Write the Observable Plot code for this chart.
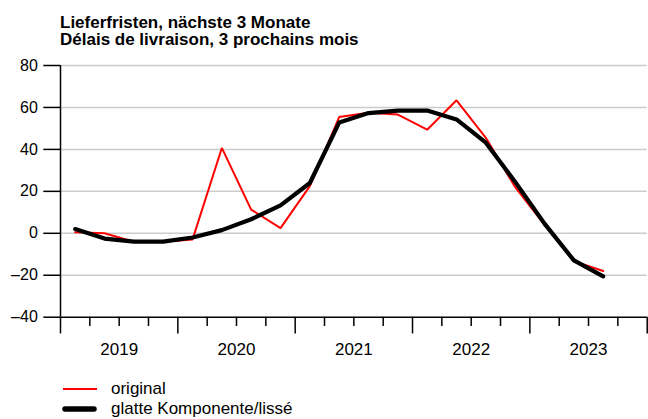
<!DOCTYPE html>
<html><head><meta charset="utf-8">
<script src="https://cdn.jsdelivr.net/npm/d3@7"></script>
<script src="https://cdn.jsdelivr.net/npm/@observablehq/plot@0.6"></script>
<style>
body{margin:0;background:#fff;font-family:"Liberation Sans",Arial,sans-serif;color:#000;}
#title{padding:14px 0 0 60px;font-weight:bold;font-size:17px;line-height:17px;height:34px;}
#chart svg{display:block;}
#legend{margin-top:11px;}
.row{display:flex;align-items:center;height:20px;padding-left:62px;font-size:17px;}
.row svg{display:block;margin-right:14px;}
</style></head><body>
<div id="title"><div>Lieferfristen, nächste 3 Monate</div><div>Délais de livraison, 3 prochains mois</div></div>
<div id="chart"></div>
<div id="legend"></div>
<script>
const quarters = ["2019Q1","2019Q2","2019Q3","2019Q4","2020Q1","2020Q2","2020Q3","2020Q4",
  "2021Q1","2021Q2","2021Q3","2021Q4","2022Q1","2022Q2","2022Q3","2022Q4","2023Q1","2023Q2","2023Q3"];
const original = [0.5, 0, -4, -4, -3, 40.7, 11.3, 2.5, 22.5, 55.4, 57.5, 56.6, 49.4, 63.4, 45.5, 22, 4, -13.3, -18];
const smooth = [2, -2.5, -4, -4, -2, 1.5, 6.7, 13.3, 24, 52.8, 57.3, 58.5, 58.5, 54.3, 43.2, 24.5, 4.6, -12.9, -20.5];
const yTicks = [-40, -20, 0, 20, 40, 60, 80];
const gridValues = [-20, 0, 20, 40, 60, 80];
const years = [2019, 2020, 2021, 2022, 2023, 2024];
const yearLabels = ["2019", "2020", "2021", "2022", "2023"];
const seriesNames = ["original", "glatte Komponente/lissé"];

const qx = q => +q.slice(0, 4) + (+q.slice(5) - 0.5) / 4;
const rowsOrig = quarters.map((q, i) => ({x: qx(q), y: original[i]}));
const rowsSmooth = quarters.map((q, i) => ({x: qx(q), y: smooth[i]}));
const quarterTicks = years.slice(0, -1).flatMap(y => [0.25, 0.5, 0.75].map(f => y + f));
const yearMids = yearLabels.map(l => +l + 0.5);

const chart = Plot.plot({
  width: 648,
  height: 320,
  marginTop: 17,
  marginBottom: 51.3,
  marginLeft: 60,
  marginRight: 1.3,
  style: {fontFamily: '"Liberation Sans", Arial, sans-serif', fontSize: "16px", color: "#000", background: "#fff"},
  x: {type: "linear", domain: [years[0], years[years.length - 1]], axis: null, label: null},
  y: {domain: [yTicks[0], yTicks[yTicks.length - 1]], axis: null, label: null},
  marks: [
    Plot.ruleY(gridValues, {stroke: "#cccccc", strokeWidth: 1.5}),
    Plot.ruleY([yTicks[0]], {stroke: "#000", strokeWidth: 1.5}),
    Plot.ruleX([years[0]], {stroke: "#000", strokeWidth: 1.5}),
    Plot.axisY({ticks: yTicks, label: null, tickSize: 16.7, tickPadding: 6, fontSize: 16, strokeWidth: 1.5, stroke: "#000", tickFormat: d => String(d).replace("-", "\u2013")}),
    Plot.axisX({ticks: years, label: null, tickSize: 16.7, strokeWidth: 1.5, stroke: "#000", tickFormat: () => ""}),
    Plot.axisX({ticks: quarterTicks, label: null, tickSize: 9.3, strokeWidth: 1.5, stroke: "#000", tickFormat: () => ""}),
    Plot.axisX({ticks: yearMids, label: null, tickSize: 0, tickPadding: 26, fontSize: 17, fontWeight: "normal", tickFormat: (d, i) => yearLabels[i]}),
    Plot.line(rowsOrig, {x: "x", y: "y", stroke: "#ff0000", strokeWidth: 2, strokeLinejoin: "miter"}),
    Plot.line(rowsSmooth, {x: "x", y: "y", stroke: "#000", strokeWidth: 4.2, strokeLinejoin: "round"})
  ]
});
document.getElementById("chart").appendChild(chart);

const legend = document.getElementById("legend");
const swatches = [{color: "#ff0000", w: 2, cap: "butt"}, {color: "#000", w: 5.5, cap: "round"}];
seriesNames.forEach((name, i) => {
  const row = document.createElement("div");
  row.className = "row";
  const s = swatches[i];
  row.innerHTML = `<svg width="35" height="20"><line x1="${s.cap === "round" ? 3 : 1}" x2="${s.cap === "round" ? 32 : 35}" y1="10" y2="10" stroke="${s.color}" stroke-width="${s.w}" stroke-linecap="${s.cap}"/></svg><span>${name}</span>`;
  legend.appendChild(row);
});
</script>
</body></html>
